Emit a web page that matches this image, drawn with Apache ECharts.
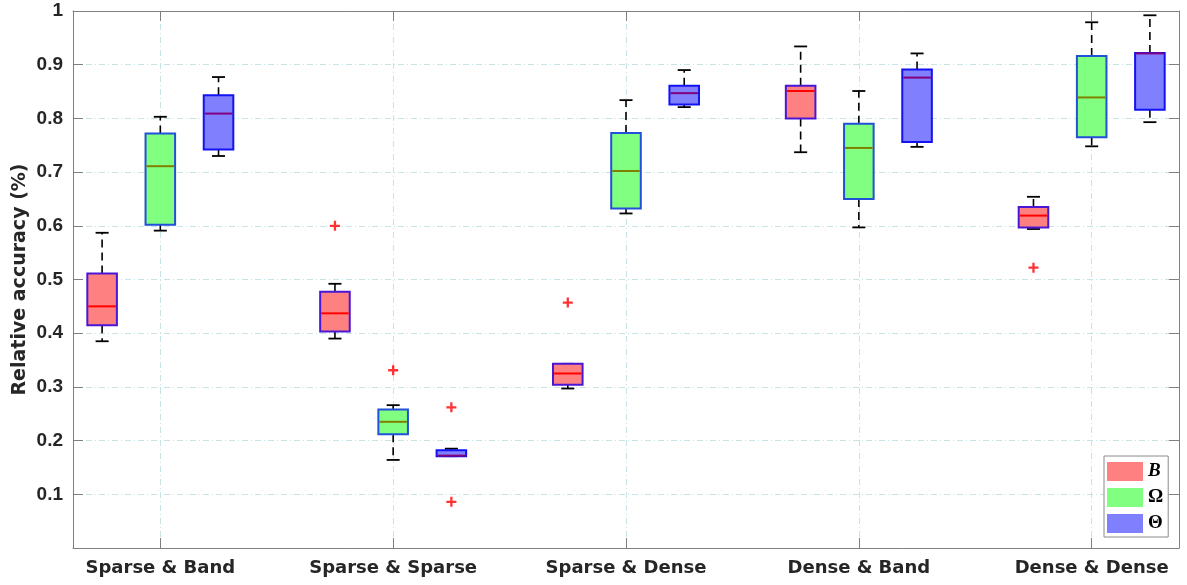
<!DOCTYPE html>
<html><head><meta charset="utf-8">
<script src="https://cdn.jsdelivr.net/npm/echarts@6/dist/echarts.min.js"></script>
<style>html,body{margin:0;padding:0;background:#fff}#c{width:1187px;height:585px}</style>
</head><body><div id="c"></div>
<script>
// ---- data ----
const categories = ['Sparse & Band', 'Sparse & Sparse', 'Sparse & Dense', 'Dense & Band', 'Dense & Dense'];
const seriesNames = ['B', 'Ω', 'Θ'];
const yTicks = [0, 0.1, 0.2, 0.3, 0.4, 0.5, 0.6, 0.7, 0.8, 0.9, 1];
// each box: [lower whisker, Q1, median, Q3, upper whisker]
const boxB = [
  [0.385, 0.415, 0.450, 0.511, 0.587],
  [0.390, 0.403, 0.437, 0.477, 0.492],
  [0.297, 0.304, 0.325, 0.343, 0.343],
  [0.737, 0.800, 0.851, 0.861, 0.934],
  [0.594, 0.597, 0.619, 0.635, 0.654]
];
const boxOmega = [
  [0.591, 0.602, 0.711, 0.772, 0.803],
  [0.164, 0.212, 0.235, 0.258, 0.266],
  [0.623, 0.632, 0.702, 0.773, 0.834],
  [0.597, 0.650, 0.745, 0.790, 0.851],
  [0.748, 0.765, 0.839, 0.916, 0.979]
];
const boxTheta = [
  [0.730, 0.742, 0.809, 0.843, 0.877],
  [0.171, 0.171, 0.172, 0.182, 0.185],
  [0.821, 0.826, 0.847, 0.861, 0.890],
  [0.747, 0.756, 0.876, 0.891, 0.921],
  [0.793, 0.816, 0.921, 0.922, 0.992]
];
const outliersB = [['Sparse & Sparse', 0.600], ['Sparse & Dense', 0.457], ['Dense & Dense', 0.522]];
const outliersOmega = [['Sparse & Sparse', 0.331]];
const outliersTheta = [['Sparse & Sparse', 0.262], ['Sparse & Sparse', 0.086]];

// ---- styles ----
const BOX_W = 0.127, CAP_W = 0.056, OFFSET = 0.25;
const styles = [
  {fill: '#ff8080', edge: '#4a16d6', median: '#ff0000'},
  {fill: '#80ff80', edge: '#2250d8', median: '#808000'},
  {fill: '#8080ff', edge: '#1212f2', median: '#800080'}
];
const GRID_COLOR = '#c6e4e4';
const AXIS_COLOR = '#808080';
const TEXT_COLOR = '#262626';

function boxSeries(name, boxes, offset, st) {
  return {
    type: 'custom', name: name, xAxisIndex: 0, yAxisIndex: 0,
    itemStyle: {color: st.fill},
    encode: {x: 0, y: [1, 2, 3, 4, 5]},
    data: boxes.map((b, i) => [i + 1].concat(b)),
    renderItem: function (params, api) {
      const x = api.value(0) + offset;
      const pLo = api.coord([x, api.value(1)]);
      const pQ1 = api.coord([x, api.value(2)]);
      const pMd = api.coord([x, api.value(3)]);
      const pQ3 = api.coord([x, api.value(4)]);
      const pHi = api.coord([x, api.value(5)]);
      const unit = api.size([1, 0])[0];
      const hw = BOX_W * unit / 2, cw = CAP_W * unit / 2;
      const cx = pMd[0];
      const dashed = {stroke: '#000', lineWidth: 1.6, lineDash: [8, 5]};
      const solid = {stroke: '#000', lineWidth: 1.8};
      const children = [];
      if (pHi[1] < pQ3[1]) children.push({type: 'line', shape: {x1: cx, y1: pQ3[1], x2: cx, y2: pHi[1]}, style: dashed});
      if (pLo[1] > pQ1[1]) children.push({type: 'line', shape: {x1: cx, y1: pQ1[1], x2: cx, y2: pLo[1]}, style: dashed});
      children.push({type: 'line', shape: {x1: cx - cw, y1: pHi[1], x2: cx + cw, y2: pHi[1]}, style: solid});
      children.push({type: 'line', shape: {x1: cx - cw, y1: pLo[1], x2: cx + cw, y2: pLo[1]}, style: solid});
      children.push({type: 'rect', shape: {x: cx - hw, y: pQ3[1], width: 2 * hw, height: Math.max(pQ1[1] - pQ3[1], 1)},
        style: {fill: st.fill, stroke: st.edge, lineWidth: 2}});
      children.push({type: 'line', shape: {x1: cx - hw + 1, y1: pMd[1], x2: cx + hw - 1, y2: pMd[1]}, style: {stroke: st.median, lineWidth: 2}});
      return {type: 'group', children: children};
    },
    z: 3
  };
}

function outlierSeries(list, offset) {
  return {
    type: 'scatter', name: 'outliers', xAxisIndex: 0, yAxisIndex: 0,
    symbol: 'path://M4,0h2.4v4h4v2.4h-4v4h-2.4v-4h-4v-2.4h4z', symbolSize: 10,
    itemStyle: {color: '#ff0000'},
    silent: true, z: 4,
    data: list.map(o => [categories.indexOf(o[0]) + 1 + offset, o[1]])
  };
}

const chart = echarts.init(document.getElementById('c'), null, {renderer: 'canvas'});
const xTickVals = categories.map((c, i) => i + 1);
const commonX = {type: 'value', min: 0.625, max: 5.375,
  axisLine: {show: true, onZero: false, lineStyle: {color: AXIS_COLOR, width: 1}}};
const commonY = {type: 'value', min: 0, max: 1, interval: 0.1,
  axisLine: {show: true, onZero: false, lineStyle: {color: AXIS_COLOR, width: 1}}};

chart.setOption({
  animation: false,
  backgroundColor: '#fff',
  grid: {left: 73, right: 8, top: 11, bottom: 37, containLabel: false, outerBoundsMode: 'none'},
  xAxis: [
    Object.assign({}, commonX, {position: 'bottom',
      axisTick: {show: true, inside: true, length: 10, customValues: xTickVals, lineStyle: {color: AXIS_COLOR}},
      axisLabel: {show: true, customValues: xTickVals, margin: 11,
        formatter: v => categories[Math.round(v) - 1] || '',
        fontFamily: 'DejaVu Sans', fontWeight: 'bold', fontSize: 18, color: TEXT_COLOR},
      splitLine: {show: true, lineStyle: {color: GRID_COLOR, width: 1, type: [6, 3, 1, 3]}}}),
    Object.assign({}, commonX, {position: 'top',
      axisTick: {show: true, inside: true, length: 10, customValues: xTickVals, lineStyle: {color: AXIS_COLOR}},
      axisLabel: {show: false}, splitLine: {show: false}})
  ],
  yAxis: [
    Object.assign({}, commonY, {position: 'left',
      name: 'Relative accuracy (%)', nameLocation: 'middle', nameGap: 43, nameMoveOverlap: false,
      nameTextStyle: {fontFamily: 'DejaVu Sans', fontWeight: 'bold', fontSize: 19, color: TEXT_COLOR},
      axisTick: {show: true, inside: true, length: 10, lineStyle: {color: AXIS_COLOR}},
      axisLabel: {show: true, margin: 10, showMinLabel: false,
        formatter: v => (Math.abs(v) < 1e-9 ? '' : String(+v.toFixed(1))),
        fontFamily: 'Liberation Sans', fontWeight: 'bold', fontSize: 19, color: TEXT_COLOR},
      splitLine: {show: true, lineStyle: {color: GRID_COLOR, width: 1, type: [6, 3, 1, 3]}}}),
    Object.assign({}, commonY, {position: 'right',
      axisTick: {show: true, inside: true, length: 10, lineStyle: {color: AXIS_COLOR}},
      axisLabel: {show: false}, splitLine: {show: false}})
  ],
  legend: {
    orient: 'vertical', left: 1104, top: 456,
    backgroundColor: '#fff', borderColor: '#8a8a8a', borderWidth: 1,
    padding: [6, 5, 4, 3], itemWidth: 36, itemHeight: 19, itemGap: 7, itemTextGap: 5,
    icon: 'rect', selectedMode: false,
    data: seriesNames.map((n, i) => ({name: n, itemStyle: {color: styles[i].fill, borderWidth: 0}})),
    formatter: n => (n === 'B' ? '{i|B}' : n),
    textStyle: {fontFamily: 'Liberation Serif', fontWeight: 'bold', fontSize: 19, color: '#000',
      rich: {i: {fontFamily: 'Liberation Serif', fontStyle: 'italic', fontWeight: 'bold', fontSize: 19, color: '#000'}}}
  },
  series: [
    boxSeries(seriesNames[0], boxB, -OFFSET, styles[0]),
    boxSeries(seriesNames[1], boxOmega, 0, styles[1]),
    boxSeries(seriesNames[2], boxTheta, OFFSET, styles[2]),
    outlierSeries(outliersB, -OFFSET),
    outlierSeries(outliersOmega, 0),
    outlierSeries(outliersTheta, OFFSET)
  ]
});
</script>
</body></html>
